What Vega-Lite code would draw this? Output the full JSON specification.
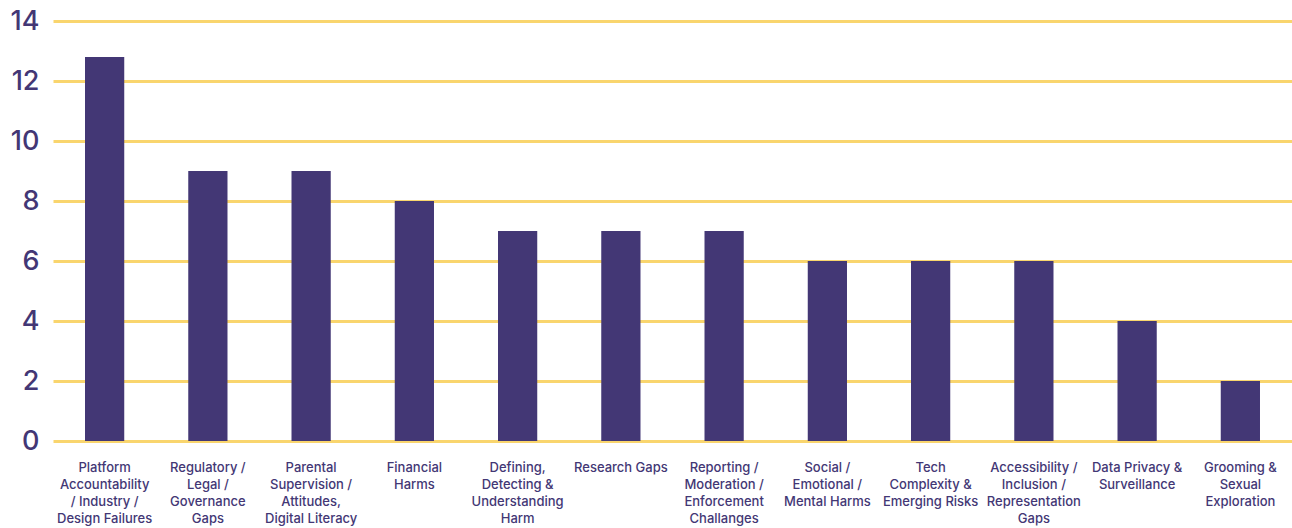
{
  "$schema": "https://vega.github.io/schema/vega-lite/v6.json",
  "autosize": {"type": "none"},
  "width": 1239,
  "height": 420,
  "padding": {"left": 53, "top": 21, "right": 0, "bottom": 87},
  "background": "white",
  "config": {"view": {"stroke": null}, "font": "Inter"},
  "data": {
    "values": [
      {"category": "Platform Accountability / Industry / Design Failures", "count": 12.8},
      {"category": "Regulatory / Legal / Governance Gaps", "count": 9},
      {"category": "Parental Supervision / Attitudes, Digital Literacy", "count": 9},
      {"category": "Financial Harms", "count": 8},
      {"category": "Defining, Detecting & Understanding Harm", "count": 7},
      {"category": "Research Gaps", "count": 7},
      {"category": "Reporting / Moderation / Enforcement Challanges", "count": 7},
      {"category": "Social / Emotional / Mental Harms", "count": 6},
      {"category": "Tech Complexity & Emerging Risks", "count": 6},
      {"category": "Accessibility / Inclusion / Representation Gaps", "count": 6},
      {"category": "Data Privacy & Surveillance", "count": 4},
      {"category": "Grooming & Sexual Exploration", "count": 2}
    ]
  },
  "mark": {"type": "bar", "color": "#433775"},
  "encoding": {
    "x": {
      "field": "category",
      "type": "nominal",
      "sort": null,
      "scale": {"paddingInner": 0.62, "paddingOuter": 0.31},
      "axis": {
        "title": null,
        "domain": false,
        "ticks": false,
        "labelAngle": 0,
        "labelPadding": 20,
        "labelBaseline": "top",
        "labelFontSize": 13,
        "labelFontWeight": 500,
        "labelColor": "#433775",
        "labelLineHeight": 17,
        "labelLimit": 0,
        "labelExpr": "datum.value == 'Platform Accountability / Industry / Design Failures' ? ['Platform', 'Accountability', '/ Industry /', 'Design Failures'] : datum.value == 'Regulatory / Legal / Governance Gaps' ? ['Regulatory /', 'Legal /', 'Governance', 'Gaps'] : datum.value == 'Parental Supervision / Attitudes, Digital Literacy' ? ['Parental', 'Supervision /', 'Attitudes,', 'Digital Literacy'] : datum.value == 'Financial Harms' ? ['Financial', 'Harms'] : datum.value == 'Defining, Detecting & Understanding Harm' ? ['Defining,', 'Detecting &', 'Understanding', 'Harm'] : datum.value == 'Reporting / Moderation / Enforcement Challanges' ? ['Reporting /', 'Moderation /', 'Enforcement', 'Challanges'] : datum.value == 'Social / Emotional / Mental Harms' ? ['Social /', 'Emotional /', 'Mental Harms'] : datum.value == 'Tech Complexity & Emerging Risks' ? ['Tech', 'Complexity &', 'Emerging Risks'] : datum.value == 'Accessibility / Inclusion / Representation Gaps' ? ['Accessibility /', 'Inclusion /', 'Representation', 'Gaps'] : datum.value == 'Data Privacy & Surveillance' ? ['Data Privacy &', 'Surveillance'] : datum.value == 'Grooming & Sexual Exploration' ? ['Grooming &', 'Sexual', 'Exploration'] : datum.value"
      }
    },
    "y": {
      "field": "count",
      "type": "quantitative",
      "scale": {"domain": [0, 14], "nice": false},
      "axis": {
        "title": null,
        "values": [0, 2, 4, 6, 8, 10, 12, 14],
        "domain": false,
        "ticks": false,
        "labelPadding": 14,
        "labelFontSize": 27,
        "labelFontWeight": 500,
        "labelColor": "#433775",
        "grid": true,
        "gridColor": "#F9D56E",
        "gridWidth": 3,
        "gridOpacity": 1,
        "zindex": 0
      }
    }
  }
}
